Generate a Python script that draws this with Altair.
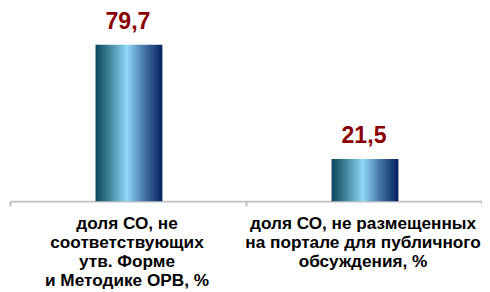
import altair as alt
import pandas as pd

categories = ["cat1", "cat2"]
values = [79.7, 21.5]
value_labels = ["79,7", "21,5"]
category_labels = [
    ["доля СО, не", "соответствующих", "утв. Форме", "и Методике ОРВ, %"],
    ["доля СО, не размещенных", "на портале для публичного", "обсуждения, %"],
]

df = pd.DataFrame({"cat": categories, "value": values, "label": value_labels})
df_lab = pd.DataFrame({"cat": categories, "lines": category_labels})

grad = alt.Gradient(
    gradient="linear",
    x1=0, x2=1, y1=0, y2=0,
    stops=[
        alt.GradientStop(offset=0, color="#0b4558"),
        alt.GradientStop(offset=0.2, color="#3d8199"),
        alt.GradientStop(offset=0.47, color="#8ed8f8"),
        alt.GradientStop(offset=0.72, color="#4577a8"),
        alt.GradientStop(offset=1, color="#04215f"),
    ],
)

x = alt.X(
    "cat:N",
    sort=categories,
    scale=alt.Scale(paddingInner=0, paddingOuter=0),
    axis=alt.Axis(
        title=None,
        labels=False,
        domainColor="#c0c0c0",
        domainWidth=2,
        tickColor="#c0c0c0",
        tickWidth=2,
        tickSize=5,
        tickBand="extent",
    ),
)
y = alt.Y("value:Q", scale=alt.Scale(domain=[0, 97.2], nice=False, zero=True), axis=None)

bars = alt.Chart(df).mark_bar(size=68, fill=grad, xOffset=1).encode(x=x, y=y)
text = alt.Chart(df).mark_text(
    font="Liberation Sans", fontWeight="bold", fontSize=23.5, color="#8b0000",
    baseline="alphabetic", dy=-16,
).encode(x=alt.X("cat:N", sort=categories), y=y, text="label:N")

cat_text = alt.Chart(df_lab).mark_text(
    font="Liberation Sans", fontWeight="bold", fontSize=17.5, color="#000000",
    baseline="alphabetic", align="center", lineHeight=19.3, dx=-1,
).encode(x=alt.X("cat:N", sort=categories), y=alt.value(222), text="lines")

chart = (
    alt.layer(bars, text, cat_text)
    .properties(width=480, height=194, autosize=alt.AutoSizeParams(type="none"),
                padding={"left": 2, "top": 0, "right": 0, "bottom": 90})
    .configure_view(stroke=None)
)
chart.save("out.html", embed_options={"renderer": "svg", "actions": False})
